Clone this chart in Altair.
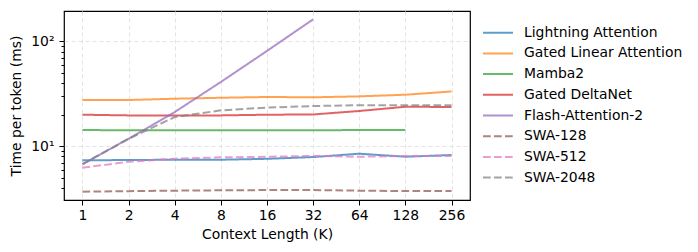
import altair as alt
import pandas as pd

ctx = [1, 2, 4, 8, 16, 32, 64, 128, 256]
series_names = ["Lightning Attention", "Gated Linear Attention", "Mamba2", "Gated DeltaNet",
                "Flash-Attention-2", "SWA-128", "SWA-512", "SWA-2048"]
lightning = [7.36, 7.4, 7.45, 7.45, 7.6, 7.9, 8.5, 7.96, 8.26]
gla = [27.6, 27.6, 28.4, 29.0, 29.5, 29.3, 29.9, 31.0, 33.3]
mamba2 = [14.3, 14.2, 14.2, 14.2, 14.2, 14.2, 14.3, 14.3]
deltanet = [20.0, 19.7, 19.7, 19.7, 20.0, 20.1, 21.7, 23.8, 23.7]
flash = [6.75, 11.8, 21.2, 41.0, 81.0, 162.0]
swa128 = [3.70, 3.74, 3.78, 3.81, 3.83, 3.83, 3.78, 3.75, 3.75]
swa512 = [6.25, 7.13, 7.62, 7.85, 7.95, 8.1, 7.95, 8.1, 8.1]
swa2048 = [6.75, 11.8, 19.0, 22.0, 23.4, 24.2, 24.6, 24.6, 24.6]
colors = ["#1f77b4", "#ff7f0e", "#2ca02c", "#d62728", "#9467bd", "#8c564b", "#e377c2", "#7f7f7f"]
dashes = [[1, 0], [1, 0], [1, 0], [1, 0], [1, 0], [7.7, 3.3], [7.7, 3.3], [7.7, 3.3]]

rows = []
for name, vals in zip(series_names, [lightning, gla, mamba2, deltanet, flash, swa128, swa512, swa2048]):
    for i, v in enumerate(vals):
        rows.append({"series": name, "ctx": ctx[i], "t": v, "order": series_names.index(name)})
df = pd.DataFrame(rows)
leg_df = pd.DataFrame({"series": series_names, "idx": list(range(len(series_names)))})

font = "DejaVu Sans"
fs = 13.9
grid_color = "#e3e3e3"
xs = alt.X("ctx:Q", scale=alt.Scale(type="log", base=2, domain=[0.758, 338], nice=False),
           axis=alt.Axis(values=ctx, format="d", title="Context Length (K)", grid=True,
                         gridDash=[4, 3], gridColor=grid_color, tickSize=5, tickColor="black",
                         labelColor="black", titleColor="black", labelFontSize=fs, titleFontSize=fs,
                         titleFontWeight="normal", labelFont=font, titleFont=font, domain=False,
                         labelPadding=3, titlePadding=6))
yscale = alt.Scale(type="log", domain=[3.08, 194.5], nice=False)
color_scale = alt.Scale(domain=series_names, range=colors)
dash_scale = alt.Scale(domain=series_names, range=dashes)

lines = alt.Chart(df).mark_line(strokeWidth=2, opacity=0.72).encode(
    x=xs,
    y=alt.Y("t:Q", scale=yscale,
            axis=alt.Axis(values=[10, 100], labelExpr="datum.value == 10 ? '10¹' : '10²'",
                          title="Time per token (ms)", grid=True, gridDash=[4, 3], gridColor=grid_color,
                          tickSize=5, tickColor="black", labelColor="black", titleColor="black",
                          labelFontSize=fs, titleFontSize=fs, titleFontWeight="normal",
                          labelFont=font, titleFont=font, domain=False, labelPadding=5, titlePadding=7)),
    color=alt.Color("series:N", scale=color_scale, legend=None),
    strokeDash=alt.StrokeDash("series:N", scale=dash_scale, legend=None),
    order="order:Q",
    detail="series:N",
)

minor = alt.Chart(df).mark_point(opacity=0).encode(
    y=alt.Y("t:Q", scale=yscale,
            axis=alt.Axis(values=[4, 5, 6, 7, 8, 9, 20, 30, 40, 50, 60, 70, 80, 90], labels=False,
                          title=None, grid=False, tickSize=3, tickColor="black", domain=False,
                          orient="left")),
)

main = alt.layer(lines, minor).resolve_axis(y="independent").properties(
    width=406, height=189, view=alt.ViewBackground(stroke="black", strokeWidth=1.2)
)

leg_y = alt.Y("idx:Q", scale=alt.Scale(domain=[0, 7], range=[21.7, 166.6], nice=False, zero=False),
              axis=None)
leg_lines = alt.Chart(leg_df).mark_rule(strokeWidth=2, opacity=0.72).encode(
    x=alt.value(0), x2=alt.value(30), y=leg_y,
    color=alt.Color("series:N", scale=color_scale, legend=None),
    strokeDash=alt.StrokeDash("series:N", scale=dash_scale, legend=None),
)
leg_text = alt.Chart(leg_df).mark_text(align="left", baseline="middle", fontSize=fs, font=font,
                                       color="black").encode(
    x=alt.value(41), y=leg_y, text="series:N")
legend = alt.layer(leg_lines, leg_text).properties(
    width=195, height=189, view=alt.ViewBackground(stroke=None)
)

chart = alt.hconcat(main, legend, spacing=11).properties(
    padding={"left": 1, "top": 2, "right": 2, "bottom": 2}
).configure(background="white")

chart.save("out.html", embed_options={"renderer": "svg", "actions": False})
